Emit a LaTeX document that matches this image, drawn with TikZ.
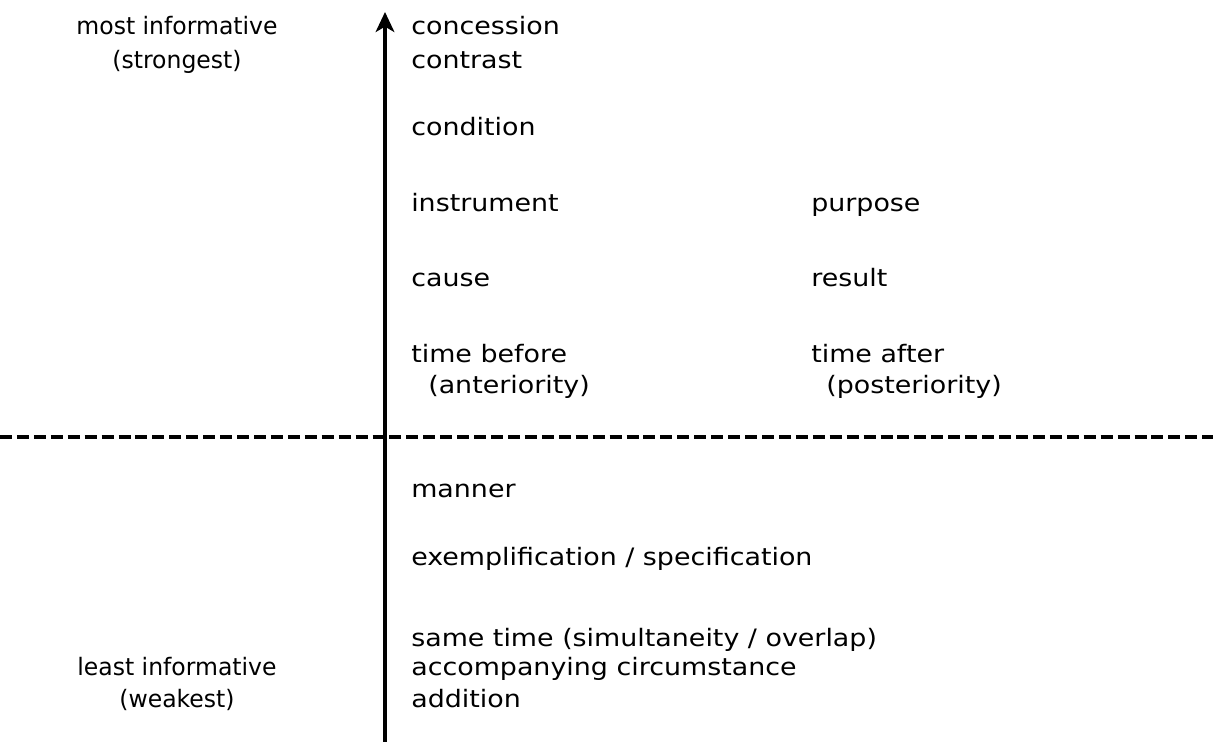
\documentclass[tikz,border=0pt]{standalone}
\usepackage{fontspec}
\setmainfont{DejaVu Sans}[FakeStretch=1.12]
\newfontfamily\sidefont{DejaVu Sans}[FakeStretch=0.98]
\usepackage{tikz}
\usetikzlibrary{arrows.meta}

\begin{document}
\begin{tikzpicture}[x=0.75pt,y=-0.75pt,
    lbl/.style={anchor=base west,inner sep=0pt,font=\fontsize{18}{22}\selectfont},
    side/.style={anchor=base,inner sep=0pt,font=\sidefont\fontsize{18}{22}\selectfont}]
          \useasboundingbox (0,0) rectangle (1213,742);
          \coordinate (bot) at (385,742);
          \coordinate (top) at (385,12);
          \coordinate (dl) at (0,437);
          \coordinate (dr) at (1213,437);
          \draw[line width=2.4pt,dash pattern=on 9pt off 3.7pt] (dl) -- (dr);
          \draw[line width=2.4pt,-{Stealth[length=15pt,width=14pt,inset=4pt]}] (bot) -- (top);
          % left side
          \node[side] (most) at (177,35) {most informative};
          \node[side] (strong) at (177,69) {(strongest)};
          \node[side] (least) at (177,675) {least informative};
          \node[side] (weak) at (177,707) {(weakest)};
          % first column
          \node[lbl] (concession) at (411,35) {concession};
          \node[lbl] (contrast) at (411,69) {contrast};
          \node[lbl] (condition) at (411,135) {condition};
          \node[lbl] (instrument) at (411,211) {instrument};
          \node[lbl] (cause) at (411,286) {cause};
          \node[lbl] (before) at (411,362) {time before};
          \node[lbl] (anter) at (428,393) {(anteriority)};
          \node[lbl] (manner) at (411,497) {manner};
          \node[lbl] (exempl) at (411,565) {exemplification / specification};
          \node[lbl] (same) at (411,646) {same time (simultaneity / overlap)};
          \node[lbl] (accomp) at (411,675) {accompanying circumstance};
          \node[lbl] (addition) at (411,707) {addition};
          % second column
          \node[lbl] (purpose) at (811,211) {purpose};
          \node[lbl] (result) at (811,286) {result};
          \node[lbl] (after) at (811,362) {time after};
          \node[lbl] (poster) at (826,393) {(posteriority)};
        \end{tikzpicture}
\end{document}
